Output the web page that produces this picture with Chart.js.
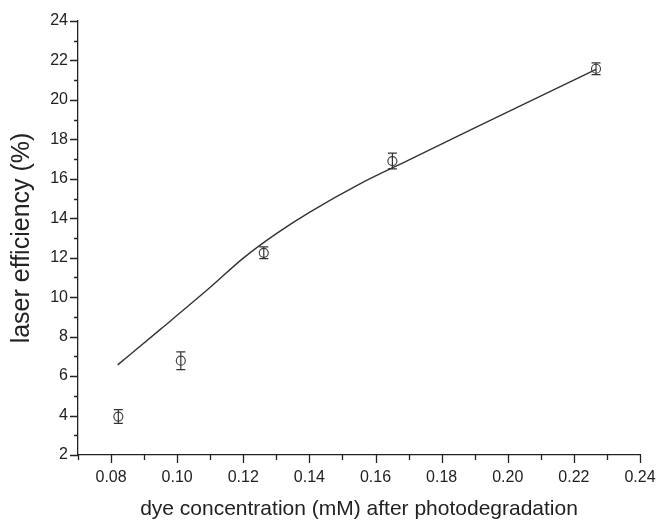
<!DOCTYPE html>
<html>
<head>
<meta charset="utf-8">
<script src="https://cdn.jsdelivr.net/npm/chart.js@4"></script>
<style>
  html, body { margin: 0; padding: 0; background: #fff; }
  canvas { display: block; }
</style>
</head>
<body>
<canvas id="chart" width="658" height="526"></canvas>
<script>
// measured points (mean and error bar half-height)
const concentration = [0.0822, 0.1011, 0.1262, 0.1651, 0.2267];
const efficiency = [3.95, 6.78, 12.25, 16.9, 21.58];
const errors = [0.35, 0.45, 0.3, 0.4, 0.3];

// fitted curve
const fitX = [0.082, 0.095, 0.11, 0.12, 0.13, 0.14, 0.155, 0.17, 0.19, 0.2267];
const fitY = [6.57, 8.38, 10.5, 11.98, 13.22, 14.3, 15.72, 16.95, 18.58, 21.55];

const xMin = 0.07, xMax = 0.24;
const yMin = 2, yMax = 24;

const fontFamily = '"Liberation Sans", Arial, Helvetica, sans-serif';
const ink = '#222';

// Error bars drawn through the chart scales
const errorBars = {
    id: 'errorBars',
    afterDatasetsDraw(chart) {
        const ctx = chart.ctx;
        const xs = chart.scales.x, ys = chart.scales.y;
        ctx.save();
        ctx.strokeStyle = '#333';
        ctx.lineWidth = 1.2;
        concentration.forEach((c, i) => {
            const px = xs.getPixelForValue(c);
            const top = ys.getPixelForValue(efficiency[i] + errors[i]);
            const bot = ys.getPixelForValue(efficiency[i] - errors[i]);
            ctx.beginPath();
            ctx.moveTo(px, top); ctx.lineTo(px, bot);
            ctx.moveTo(px - 4.5, top); ctx.lineTo(px + 4.5, top);
            ctx.moveTo(px - 4.5, bot); ctx.lineTo(px + 4.5, bot);
            ctx.stroke();
        });
        ctx.restore();
    }
};

// Outward ticks: long for labelled values, short for the ones between
const axisTicks = {
    id: 'axisTicks',
    afterDraw(chart) {
        const ctx = chart.ctx;
        const xs = chart.scales.x, ys = chart.scales.y;
        ctx.save();
        ctx.strokeStyle = ink;
        ctx.lineWidth = 1.3;
        ctx.beginPath();
        xs.ticks.forEach(t => {
            const px = Math.round(xs.getPixelForValue(t.value)) + 0.5;
            const major = Math.round(t.value * 100) % 2 === 0;
            ctx.moveTo(px, xs.top);
            ctx.lineTo(px, xs.top + (major ? 8 : 5));
        });
        ys.ticks.forEach(t => {
            const py = Math.round(ys.getPixelForValue(t.value)) + 0.5;
            const major = Math.round(t.value) % 2 === 0;
            ctx.moveTo(ys.right, py);
            ctx.lineTo(ys.right - (major ? 8 : 4), py);
        });
        ctx.stroke();
        ctx.restore();
    }
};

new Chart(document.getElementById('chart').getContext('2d'), {
    type: 'scatter',
    data: {
        datasets: [{
            label: 'measured',
            data: concentration.map((c, i) => ({ x: c, y: efficiency[i] })),
            pointStyle: 'circle',
            pointRadius: 4.5,
            borderColor: '#444',
            backgroundColor: 'rgba(0,0,0,0)',
            borderWidth: 1.2,
            showLine: false
        }, {
            label: 'fit',
            data: fitX.map((x, i) => ({ x: x, y: fitY[i] })),
            showLine: true,
            pointRadius: 0,
            borderColor: '#333',
            borderWidth: 1.4,
            cubicInterpolationMode: 'monotone',
            fill: false
        }]
    },
    options: {
        responsive: false,
        animation: false,
        layout: { padding: { top: 21, right: 18, left: 0, bottom: 0 } },
        plugins: {
            legend: { display: false },
            tooltip: { enabled: false }
        },
        scales: {
            x: {
                type: 'linear',
                min: xMin,
                max: xMax,
                afterFit(scale) {
                    scale.height = 71;
                    scale.paddingLeft = 0;
                    scale.paddingRight = 0;
                },
                grid: { display: false, drawTicks: false },
                border: { display: true, color: ink, width: 1.3 },
                ticks: {
                    stepSize: 0.01,
                    padding: 13,
                    maxRotation: 0,
                    autoSkip: false,
                    color: ink,
                    font: { family: fontFamily, size: 16 },
                    callback: v => {
                        const k = Math.round(v * 100);
                        return (k % 2 === 0 && k >= 8) ? (k / 100).toFixed(2) : '';
                    }
                },
                title: {
                    display: true,
                    text: 'dye concentration (mM) after photodegradation',
                    color: ink,
                    font: { family: fontFamily, size: 21 },
                    padding: { top: 0, bottom: 4 }
                }
            },
            y: {
                type: 'linear',
                min: yMin,
                max: yMax,
                afterFit(scale) { scale.width = 78; },
                grid: { display: false, drawTicks: false },
                border: { display: true, color: ink, width: 1.3 },
                ticks: {
                    stepSize: 1,
                    padding: 10,
                    autoSkip: false,
                    color: ink,
                    font: { family: fontFamily, size: 16 },
                    callback: v => (Math.round(v) % 2 === 0 ? String(Math.round(v)) : '')
                },
                title: {
                    display: true,
                    text: 'laser efficiency (%)',
                    color: ink,
                    font: { family: fontFamily, size: 25 },
                    padding: { top: 7, bottom: 0 }
                }
            }
        }
    },
    plugins: [errorBars, axisTicks]
});
</script>
</body>
</html>
